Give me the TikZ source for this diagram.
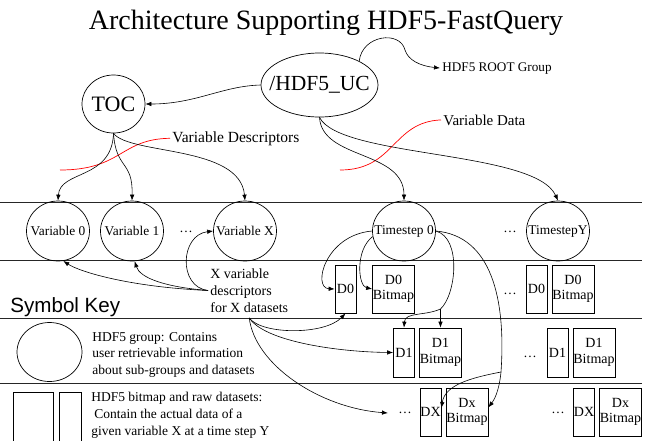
\documentclass[tikz,border=0pt]{standalone}
\usepackage{fontspec}
\setmainfont{Liberation Serif}
\newfontfamily\keyfont{Liberation Sans}
\usepackage{tikz}
\usetikzlibrary{positioning, arrows, arrows.meta, shapes.geometric}

\tikzset{
  grp/.style={draw, ellipse, inner sep=0pt, minimum width=63pt, minimum height=60pt},
  tag/.style={label={[font=\fontsize{13.4}{15}\selectfont, inner sep=0pt]center:#1}},
  dset/.style={draw, inner sep=0pt, minimum width=21pt, minimum height=48pt, font=\fontsize{14}{15.5}\selectfont},
  bmap/.style={dset, minimum width=42pt, align=center},
  link/.style={-{Latex[length=6pt,width=4.5pt]}, line width=0.6pt},
  cut/.style={red, line width=0.7pt},
  band/.style={black!85, line width=0.7pt},
  note/.style={inner sep=2pt},
  dotz/.style={inner sep=1pt, font=\fontsize{13.4}{15}\selectfont}
}

\begin{document}
\begin{tikzpicture}[x=1pt, y=-1pt, line width=0.7pt]
\useasboundingbox (0,0) rectangle (651,440);

% --- Title ---
\node[font=\fontsize{28}{30}\selectfont, anchor=base] (title) at (326,29) {Architecture Supporting HDF5-FastQuery};

% --- Root group and table of contents ---
\node[grp, minimum width=117pt, minimum height=64pt,
  label={[font=\fontsize{21.5}{24}\selectfont]center:/HDF5\_UC}] (uc) at (319.5,85) {};
\node[grp, minimum height=58pt, font=\fontsize{22}{24}\selectfont] (toc) at (113.5,104) {TOC};
\node[note, anchor=base west, font=\fontsize{13.2}{15}\selectfont] (rootlbl) at (440,71) {HDF5 ROOT Group};
\node[note, anchor=base west, font=\fontsize{15}{17}\selectfont] (vdata) at (441,125) {Variable Data};
\node[note, anchor=base west, font=\fontsize{15.5}{17}\selectfont] (vdesc) at (170,142) {Variable Descriptors};
\coordinate (descend) at (60,170);
\coordinate (dataend) at (340,170);

\draw[link] (uc.west) .. controls (222,86) and (196,104) .. (toc.east);
\draw[link] (uc.31) .. controls (362,35) and (400,30) .. (405,50) .. controls (408,60) and (420,66) .. (rootlbl.west);

% red cuts
\draw[cut] (vdesc.west) .. controls (120,139) and (122,170) .. (descend);
\draw[cut] (vdata.west) .. controls (392,122) and (395,170) .. (dataend);

% --- Bands ---
\foreach \y in {202,260,318,383}
  \draw[band] (0,\y) -- (642,\y);

% --- Groups row ---
\node[grp, tag=Variable 0] (var0) at (58,231) {};
\node[grp, tag=Variable 1] (var1) at (132,231) {};
\node[dotz] (dots1) at (186,232) {\dots};
\node[grp, tag=Variable X] (varX) at (245,231) {};
\node[grp, tag=Timestep 0] (ts0) at (404,231) {};
\node[dotz] (dotsY) at (510,232) {\dots};
\node[grp, tag=TimestepY] (tsY) at (558,231) {};

\draw[link] (toc.south) .. controls (112,180) and (60,170) .. (var0.north);
\draw[link] (toc.south) .. controls (116,170) and (133,160) .. (var1.north);
\draw[link] (toc.south) .. controls (130,155) and (240,145) .. (varX.north);
\draw[link] (uc.south) .. controls (322,160) and (404,150) .. (ts0.north);
\draw[link] (uc.south) .. controls (340,158) and (535,150) .. (tsY.north);

% --- Datasets ---
\node[dset] (d0) at (345.5,289) {D0};
\node[bmap] (d0bmp) at (393.5,289) {D0\\Bitmap};
\node[dotz] (dots2) at (510,294) {\dots};
\node[dset] (d0r) at (536.5,289) {D0};
\node[bmap] (d0rbmp) at (573,289) {D0\\Bitmap};

\node[dset, minimum height=49pt] (d1) at (404,352.5) {D1};
\node[bmap, minimum height=49pt] (d1bmp) at (440.5,352.5) {D1\\Bitmap};
\node[dotz] (dots3) at (530,357) {\dots};
\node[dset, minimum height=49pt] (d1r) at (557.5,352.5) {D1};
\node[bmap, minimum height=49pt] (d1rbmp) at (594,352.5) {D1\\Bitmap};

\node[dotz] (dots4) at (405,413) {\dots};
\node[dset] (dx) at (430.5,412) {DX};
\node[bmap] (dxbmp) at (467,412) {Dx\\Bitmap};
\node[dotz] (dots5) at (558,413) {\dots};
\node[dset] (dxr) at (584,412) {DX};
\node[bmap] (dxrbmp) at (620.5,412) {Dx\\Bitmap};

\coordinate (fork1) at (440.5,309);
\coordinate (fork2) at (501,372);
\draw[link] (ts0.west) .. controls (325,235) and (312,288) .. (d0.west);
\draw[link] (ts0.190) .. controls (355,250) and (358,286) .. (d0bmp.west);
\draw[link] (ts0.east) .. controls (462,238) and (456,295) .. (fork1) -- (d1bmp.north);
\draw[link] (fork1) .. controls (425,316) and (405,312) .. (d1.north);
\draw[link] (ts0.east) .. controls (492,236) and (506,300) .. (fork2) .. controls (499,392) and (494,400) .. (dxbmp.12);
\draw[link] (fork2) .. controls (470,378) and (445,385) .. (dx.20);

% --- Descriptor note ---
\node[anchor=north west, align=left, inner xsep=2pt, inner ysep=5pt, font=\fontsize{14}{17.2}\selectfont] (desc) at (208,263)
  {X variable\\descriptors\\for X datasets};
\draw[link] (desc.west) .. controls (130,287) and (80,272) .. (var0.-80);
\draw[link] (desc.west) .. controls (165,287) and (140,278) .. (var1.-85);
\draw[link] (desc.west) .. controls (178,287) and (180,235) .. (varX.west);
\draw[link] (desc.south) .. controls (262,335) and (325,335) .. (d0.south);
\draw[link] (desc.south) .. controls (265,342) and (340,352) .. (d1.west);
\draw[link] (desc.south) .. controls (255,365) and (320,408) .. ([xshift=-9pt]dots4.west);

% --- Symbol key ---
\node[anchor=base west, inner sep=0pt, font=\keyfont\fontsize{20.6}{22}\selectfont] (symkey) at (10,312) {Symbol Key};
\node[grp, minimum width=65pt, minimum height=59pt] (keygrp) at (49.5,352) {};
\node[anchor=north west, align=left, inner sep=0pt, font=\fontsize{13.5}{16.7}\selectfont] (keygrptxt) at (92,332)
  {HDF5 group: Contains\\user retrievable information\\about sub-groups and datasets};
\node[draw, anchor=north west, minimum width=40pt, minimum height=52pt] (keybmp) at (13,392) {};
\node[draw, anchor=north west, minimum width=22pt, minimum height=52pt] (keydset) at (59,392) {};
\node[anchor=north west, align=left, inner sep=0pt, font=\fontsize{13.5}{16.7}\selectfont] (keydsettxt) at (91,392)
  {HDF5 bitmap and raw datasets:\\\hspace*{3pt}Contain the actual data of a\\given variable X at a time step Y};
\end{tikzpicture}
\end{document}
